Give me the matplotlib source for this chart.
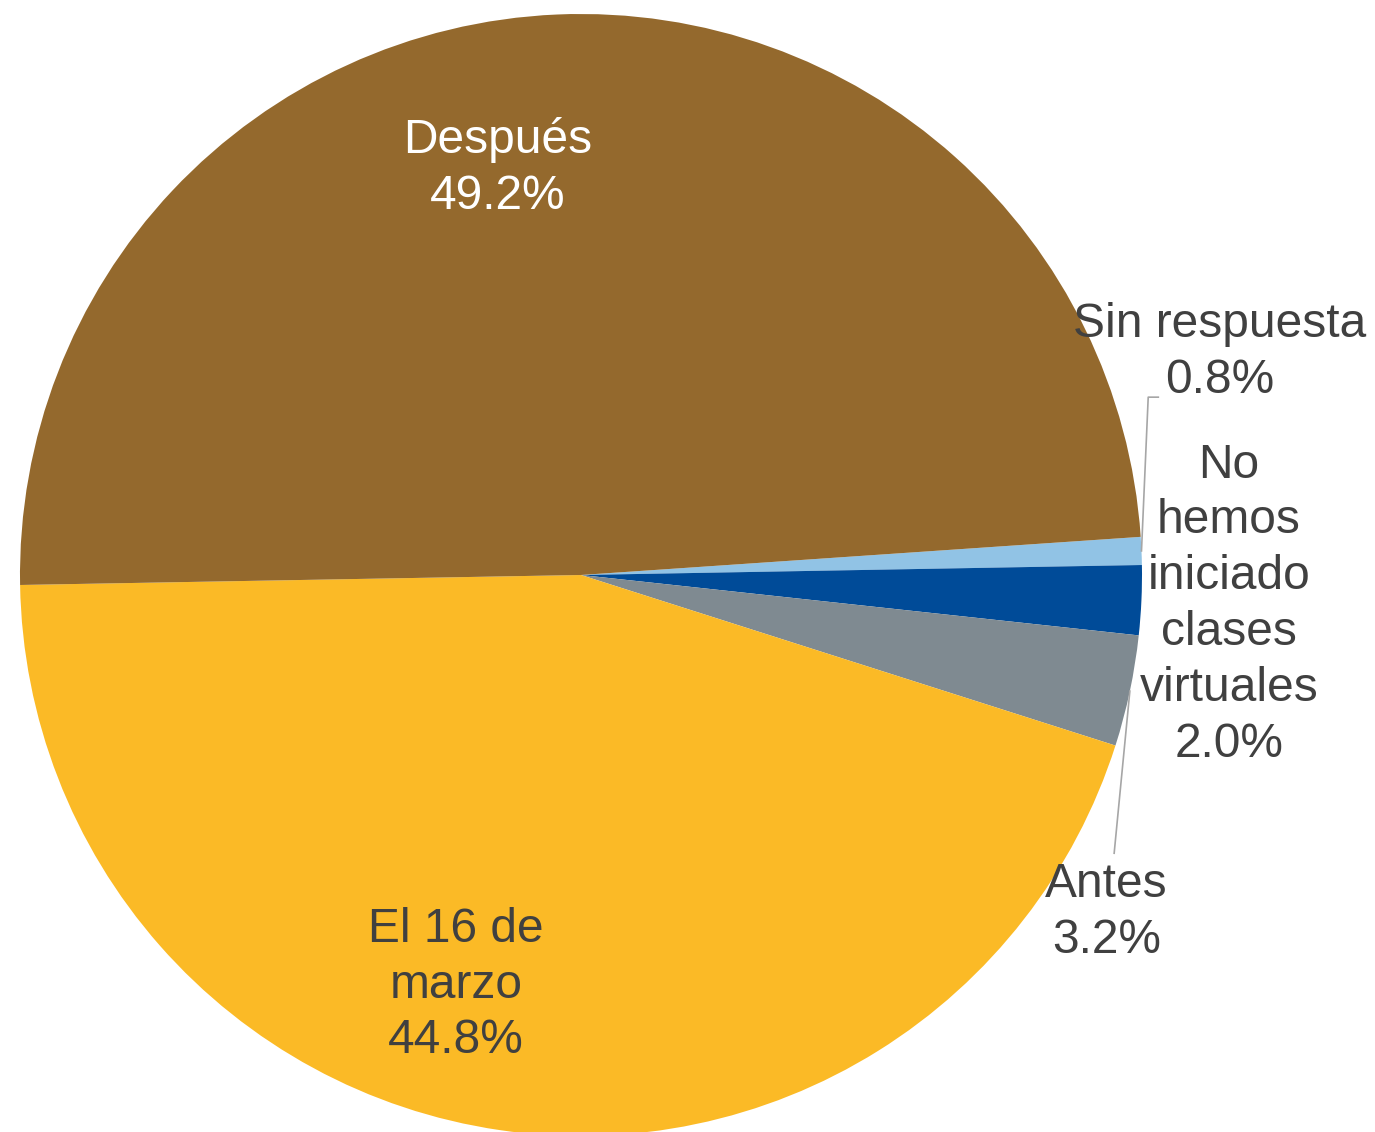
import numpy as np
import matplotlib.pyplot as plt

plt.rcParams['font.family'] = ['Liberation Sans', 'DejaVu Sans']

# Datos (sentido horario desde la derecha)
categorias = ['Sin respuesta', 'No\nhemos\niniciado\nclases\nvirtuales', 'Antes',
              'El 16 de\nmarzo', 'Después']
valores = [0.8, 2.0, 3.2, 44.8, 49.2]
colores = ['#91C3E5', '#004B98', '#7F8A91', '#FBBA26', '#94692D']
color_texto = ['#404040', '#404040', '#404040', '#404040', '#FFFFFF']

# posiciones de las etiquetas (coordenadas de datos, radio = 1)
pos_etiquetas = [(1.138, 0.397), (1.155, -0.053), (0.937, -0.601),
                 (-0.223, -0.731), (-0.149, 0.725)]
con_guia = [True, False, True, False, False]

W, H = 1375, 1132
cx, cy, r = 581, 575, 561
fig = plt.figure(figsize=(W / 100, H / 100), dpi=100)
ax = fig.add_axes([(cx - r) / W, (H - cy - r) / H, 2 * r / W, 2 * r / H])

wedges, _ = ax.pie(valores, colors=colores, startangle=3.9, counterclock=False,
                   radius=1, wedgeprops=dict(linewidth=0))
ax.set_xlim(-1, 1)
ax.set_ylim(-1, 1)
ax.set_aspect('equal')
ax.axis('off')

for w, cat, val, (tx, ty), col, guia in zip(wedges, categorias, valores,
                                             pos_etiquetas, color_texto, con_guia):
    ax.text(tx, ty, f'{cat}\n{val:.1f}%', ha='center', va='center', fontsize=34.5,
            color=col, linespacing=1.31, clip_on=False)
    if guia:
        ang = np.deg2rad((w.theta1 + w.theta2) / 2)
        x0, y0 = np.cos(ang), np.sin(ang)
        if ty > 0:
            # Sin respuesta: linea hacia arriba y corto tramo horizontal
            ax.plot([x0, x0 + 0.012, x0 + 0.03], [y0, 0.317, 0.317],
                    color='#A6A6A6', lw=1.2, clip_on=False)
        else:
            ax.plot([x0, x0 - 0.028], [y0, -0.496],
                    color='#A6A6A6', lw=1.2, clip_on=False)

fig.savefig('out.png', dpi=100)
